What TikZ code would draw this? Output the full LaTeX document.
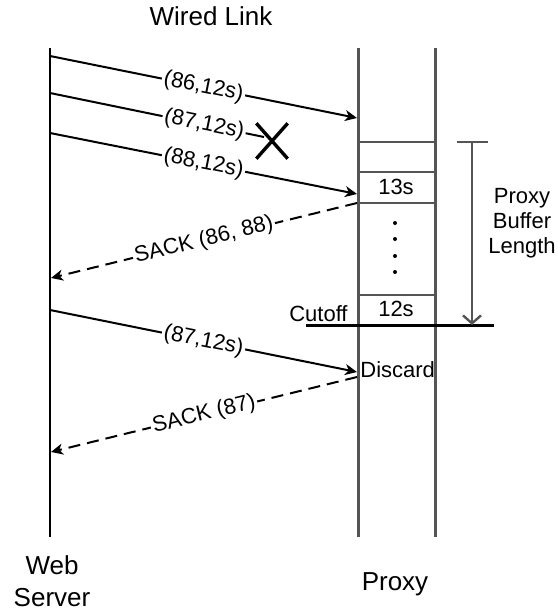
\documentclass[tikz,border=0pt]{standalone}
\usepackage{fontspec}
\setmainfont{Liberation Sans}
\usetikzlibrary{arrows.meta,shapes.misc,positioning}
\definecolor{LineGray}{HTML}{555555}
\tikzset{
    % Lifelines
    serverline/.style={
        draw=black,
        line width=1pt
    },
    proxyline/.style={
        draw=LineGray,
        line width=1.5pt
    },
    % Buffer slot lines
    slotline/.style={
        draw=LineGray,
        line width=1.2pt
    },
    % Message arrows
    msgarrow/.style={
        -{Stealth[length=6pt,width=5.5pt,inset=1.8pt]},
        line width=1pt,
        draw=black
    },
    % Acknowledgement arrows
    ackarrow/.style={
        msgarrow,
        dash pattern=on 6pt off 3.5pt
    },
    % Sloped label on an arrow
    msglabel/.style={
        font=\fontsize{11}{13}\selectfont,
        fill=white,
        inner sep=1pt,
        sloped
    },
    % Plain text
    smalltext/.style={
        font=\fontsize{11}{12.5}\selectfont,
        align=center,
        inner sep=0pt
    },
    bigtext/.style={
        font=\fontsize{13}{16}\selectfont,
        align=center,
        inner sep=0pt
    }
}
\begin{document}
\begin{tikzpicture}[x=0.5pt, y=-0.5pt]
        \useasboundingbox (0,0) rectangle (557,609);

        % Lifelines
        \coordinate (srvtop) at (50,48);
        \coordinate (srvbot) at (50,537);
        \coordinate (pltop) at (358,48);
        \coordinate (plbot) at (358,537);
        \coordinate (prtop) at (435,48);
        \coordinate (prbot) at (435,537);
        \draw[serverline] (srvtop) -- (srvbot);
        \draw[proxyline] (pltop) -- (plbot);
        \draw[proxyline] (prtop) -- (prbot);

        % Buffer slots
        \foreach \y in {142,172,203,295}
            \draw[slotline] (358,\y) -- (435,\y);
        \foreach \y in {223,239,256,272}
            \fill (395,\y) circle (1pt);
        \node[smalltext] (slot13) at (396,187) {13s};
        \node[smalltext] (slot12) at (396,309) {12s};

        % Cutoff
        \coordinate (cutleft) at (306,325);
        \coordinate (cutright) at (494,325);
        \draw[draw=black, line width=1.5pt] (cutleft) -- (cutright);
        \node[smalltext, anchor=base east] (cutoff) at (348,321) {Cutoff};

        % Buffer length bracket
        \coordinate (btop) at (472,142);
        \coordinate (bbot) at (472,325);
        \draw[slotline] (457,142) -- (488,142);
        \draw[slotline, -{Straight Barb[length=4pt,width=9pt]}] (btop) -- (bbot);
        \node[smalltext] (buflen) at (522,223) {Proxy\\Buffer\\Length};

        % Messages
        \coordinate (s86) at (50,56);
        \coordinate (p86) at (357,118);
        \coordinate (s87) at (50,93);
        \coordinate (e87) at (264,137);
        \coordinate (s88) at (50,133);
        \coordinate (p88) at (357,194);
        \coordinate (pack1) at (357,203);
        \coordinate (sack1) at (51,278);
        \coordinate (s87b) at (50,310);
        \coordinate (p87b) at (357,372);
        \coordinate (pack2) at (357,377);
        \coordinate (sack2) at (51,452);

        \draw[msgarrow] (s86) -- node[msglabel] {(86,12s)} (p86);
        \draw[line width=1pt] (s87) -- node[msglabel, pos=0.72] {(87,12s)} (e87);
        \node[cross out, draw, line width=1.7pt, minimum width=14pt, minimum height=16pt] (lost) at (272,141) {};
        \draw[msgarrow] (s88) -- node[msglabel] {(88,12s)} (p88);
        \draw[ackarrow] (pack1) -- node[msglabel] {SACK (86, 88)} (sack1);
        \draw[msgarrow] (s87b) -- node[msglabel] {(87,12s)} (p87b);
        \draw[ackarrow] (pack2) -- node[msglabel] {SACK (87)} (sack2);
        \node[smalltext, anchor=base west] (discard) at (360,377) {Discard};

        % Titles
        \node[bigtext, anchor=base] (wired) at (211,26) {Wired Link};
        \node[bigtext, anchor=base] (server) at (52,606) {Web\\Server};
        \node[bigtext, anchor=base] (proxy) at (395,590) {Proxy};
    \end{tikzpicture}
\end{document}
